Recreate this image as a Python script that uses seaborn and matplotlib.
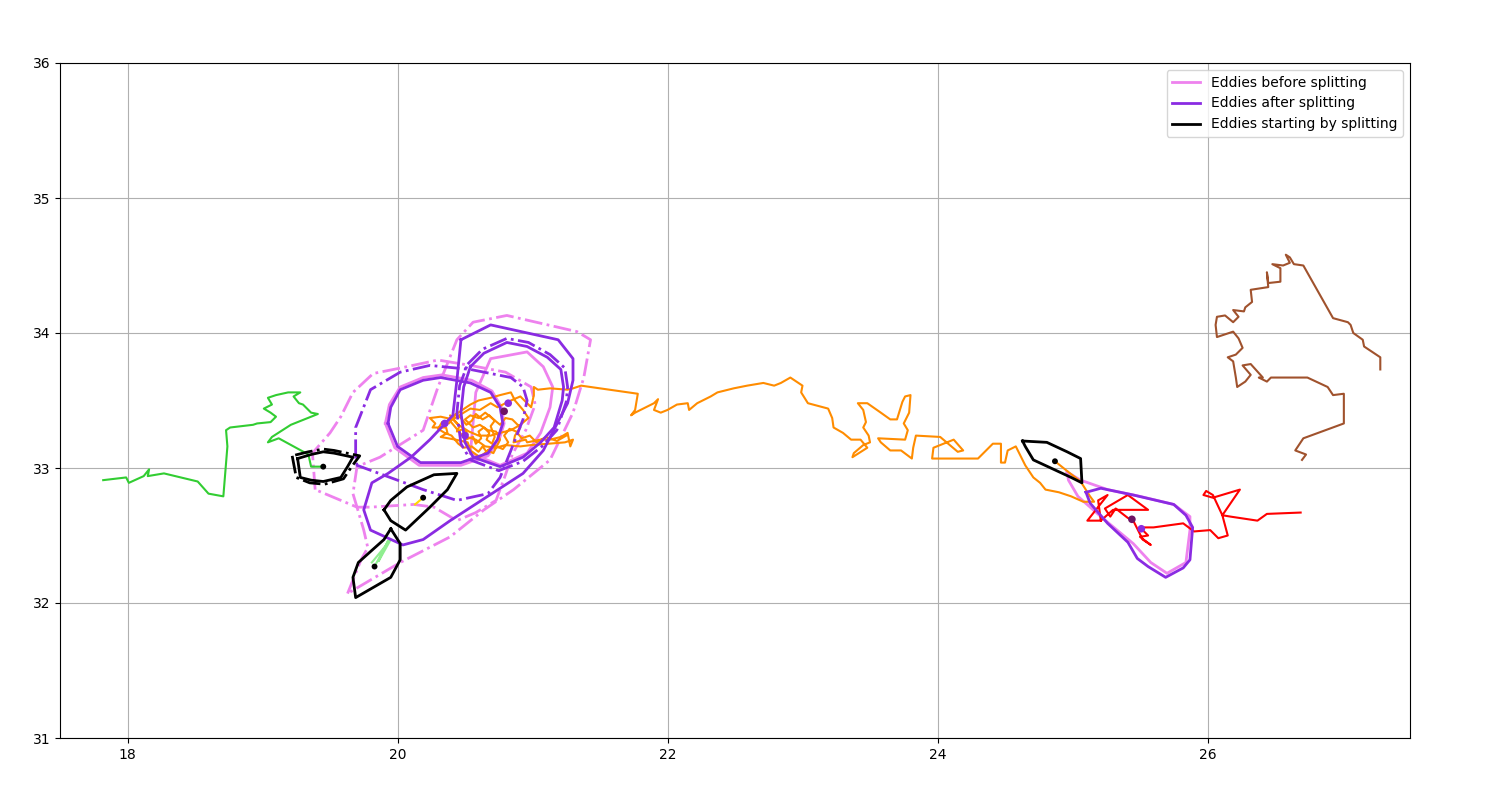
import numpy as np
import pandas as pd
import seaborn as sns
import matplotlib.pyplot as plt
from matplotlib.lines import Line2D

# ---- trajectories (lon, lat) ----
green_track = [
    (17.82, 32.91), (17.99, 32.93), (18.01, 32.89), (18.12, 32.94), (18.16, 32.99),
    (18.15, 32.94), (18.27, 32.96), (18.52, 32.90), (18.60, 32.81), (18.71, 32.79),
    (18.74, 33.16), (18.73, 33.28), (18.76, 33.30), (18.93, 33.32), (18.96, 33.33),
    (19.06, 33.34), (19.10, 33.38), (19.06, 33.41), (19.01, 33.44), (19.07, 33.47),
    (19.04, 33.52), (19.10, 33.54), (19.19, 33.56), (19.28, 33.56), (19.23, 33.53),
    (19.27, 33.48), (19.30, 33.47), (19.36, 33.41), (19.41, 33.40), (19.21, 33.32),
    (19.07, 33.23), (19.04, 33.19), (19.12, 33.22), (19.34, 33.10), (19.36, 33.01),
    (19.45, 33.01),
]

orange_track = [
    (24.87, 33.05), (24.97, 32.97), (25.06, 32.90), (25.13, 32.79), (25.16, 32.75),
    (25.08, 32.75), (24.99, 32.79), (24.90, 32.82), (24.80, 32.84), (24.76, 32.89),
    (24.71, 32.93), (24.65, 33.02), (24.61, 33.10), (24.58, 33.16), (24.52, 33.13),
    (24.50, 33.04), (24.47, 33.04), (24.47, 33.18), (24.41, 33.18), (24.30, 33.07),
    (23.96, 33.07), (23.97, 33.15), (24.12, 33.21), (24.19, 33.13), (24.15, 33.12),
    (24.02, 33.23), (23.84, 33.24), (23.82, 33.15), (23.81, 33.07), (23.73, 33.13),
    (23.65, 33.13), (23.58, 33.19), (23.56, 33.22), (23.76, 33.21), (23.78, 33.28),
    (23.75, 33.33), (23.79, 33.41), (23.80, 33.54), (23.76, 33.53), (23.74, 33.49),
    (23.70, 33.36), (23.65, 33.36), (23.58, 33.41), (23.48, 33.48), (23.41, 33.48),
    (23.45, 33.43), (23.47, 33.34), (23.45, 33.30), (23.49, 33.24), (23.50, 33.19),
    (23.45, 33.17), (23.38, 33.11), (23.37, 33.08), (23.48, 33.15), (23.43, 33.21),
    (23.36, 33.21), (23.30, 33.26), (23.23, 33.30), (23.22, 33.37), (23.19, 33.44),
    (23.04, 33.48), (22.99, 33.56), (23.00, 33.61), (22.91, 33.67), (22.84, 33.63),
    (22.79, 33.61), (22.71, 33.63), (22.59, 33.61), (22.49, 33.59), (22.37, 33.56),
    (22.32, 33.53), (22.22, 33.48), (22.16, 33.43), (22.15, 33.48), (22.07, 33.47),
    (22.00, 33.43), (21.95, 33.41), (21.90, 33.43), (21.93, 33.51), (21.90, 33.48),
    (21.82, 33.44), (21.76, 33.41), (21.73, 33.39), (21.76, 33.43), (21.78, 33.55),
    (21.50, 33.59), (21.36, 33.61),
    (21.30, 33.59), (21.26, 33.58), (21.13, 33.59), (21.04, 33.58), (21.01, 33.60),
    (21.01, 33.54), (20.99, 33.45), (20.91, 33.53), (20.84, 33.50), (20.74, 33.45),
    (20.69, 33.48), (20.61, 33.43), (20.54, 33.44), (20.49, 33.41), (20.41, 33.36),
    (20.32, 33.38), (20.24, 33.37), (20.28, 33.33), (20.26, 33.30), (20.36, 33.30),
    (20.37, 33.26), (20.32, 33.23), (20.43, 33.21), (20.52, 33.19), (20.54, 33.13),
    (20.61, 33.08), (20.67, 33.13), (20.71, 33.11), (20.76, 33.21), (20.73, 33.27),
    (20.67, 33.28), (20.61, 33.32), (20.56, 33.30), (20.50, 33.36), (20.54, 33.39),
    (20.60, 33.37), (20.65, 33.41), (20.70, 33.37), (20.76, 33.32), (20.80, 33.37),
    (20.85, 33.36), (20.91, 33.30), (20.87, 33.24), (20.86, 33.19), (20.95, 33.21),
    (20.96, 33.19), (21.06, 33.21), (21.13, 33.21), (21.21, 33.23), (21.26, 33.26),
    (21.28, 33.16), (21.30, 33.21), (21.24, 33.19), (21.12, 33.18), (20.99, 33.17),
    (20.91, 33.16), (20.80, 33.17), (20.73, 33.15), (20.65, 33.16), (20.58, 33.21),
    (20.48, 33.24), (20.43, 33.30), (20.38, 33.36), (20.45, 33.41), (20.54, 33.47),
    (20.60, 33.50), (20.69, 33.52), (20.76, 33.54), (20.84, 33.56), (20.87, 33.50),
    (20.93, 33.43), (20.97, 33.37), (20.91, 33.32), (20.84, 33.28), (20.76, 33.26),
    (20.69, 33.24), (20.60, 33.24), (20.53, 33.27), (20.45, 33.32), (20.39, 33.39),
    (20.42, 33.35), (20.46, 33.31), (20.44, 33.27), (20.49, 33.29), (20.52, 33.25),
    (20.50, 33.21), (20.56, 33.23), (20.58, 33.18), (20.62, 33.22), (20.60, 33.27),
    (20.64, 33.30), (20.68, 33.26), (20.66, 33.21), (20.70, 33.18), (20.72, 33.23),
    (20.69, 33.31), (20.72, 33.35), (20.68, 33.39), (20.63, 33.36), (20.58, 33.40),
    (20.55, 33.35), (20.51, 33.32), (20.47, 33.37), (20.43, 33.40), (20.38, 33.33),
    (20.33, 33.34), (20.30, 33.29), (20.35, 33.26), (20.40, 33.24), (20.45, 33.18),
    (20.49, 33.15), (20.55, 33.16), (20.60, 33.12), (20.63, 33.16), (20.66, 33.12),
    (20.71, 33.17), (20.78, 33.14), (20.82, 33.19), (20.79, 33.24), (20.83, 33.29),
    (20.88, 33.27), (20.92, 33.22), (20.98, 33.24), (21.03, 33.19), (21.10, 33.23),
    (21.18, 33.20), (21.25, 33.24),
]

red_track = [
    (26.69, 32.67), (26.44, 32.66), (26.37, 32.61), (26.17, 32.64), (26.11, 32.65),
    (26.24, 32.84), (26.04, 32.78), (25.97, 32.80), (25.99, 32.83), (26.04, 32.80),
    (26.11, 32.65), (26.15, 32.50), (26.08, 32.48), (26.02, 32.54), (25.90, 32.53),
    (25.82, 32.59), (25.60, 32.56), (25.50, 32.56), (25.56, 32.50), (25.50, 32.49),
    (25.58, 32.43), (25.52, 32.47), (25.45, 32.61), (25.41, 32.63), (25.32, 32.70),
    (25.28, 32.64), (25.24, 32.70), (25.41, 32.80), (25.56, 32.69), (25.30, 32.69),
    (25.21, 32.61), (25.19, 32.76), (25.26, 32.80), (25.11, 32.61), (25.21, 32.61),
]

brown_track = [
    (27.28, 33.73), (27.28, 33.82), (27.16, 33.90), (27.15, 33.95), (27.08, 34.00),
    (27.06, 34.06), (27.04, 34.08), (26.93, 34.11), (26.71, 34.50), (26.64, 34.51),
    (26.61, 34.56), (26.58, 34.58), (26.61, 34.52), (26.56, 34.50), (26.48, 34.51),
    (26.54, 34.48), (26.54, 34.38), (26.45, 34.37), (26.44, 34.45), (26.45, 34.34),
    (26.32, 34.32), (26.33, 34.23), (26.28, 34.19), (26.27, 34.16), (26.19, 34.17),
    (26.23, 34.12), (26.19, 34.08), (26.13, 34.13), (26.07, 34.12), (26.06, 34.06),
    (26.07, 33.97), (26.19, 34.01), (26.23, 33.96), (26.26, 33.89), (26.21, 33.84),
    (26.15, 33.82), (26.19, 33.79), (26.21, 33.67), (26.22, 33.60), (26.28, 33.64),
    (26.32, 33.69), (26.26, 33.76), (26.32, 33.77), (26.41, 33.67), (26.38, 33.67),
    (26.44, 33.64), (26.47, 33.67), (26.67, 33.67), (26.74, 33.67), (26.89, 33.60),
    (26.93, 33.54), (27.01, 33.55), (27.01, 33.33), (26.71, 33.22), (26.65, 33.13),
    (26.73, 33.10), (26.70, 33.06),
]

gold_track = [(20.13, 32.73), (20.19, 32.78)]
lightgreen_track = [(19.83, 32.27), (19.93, 32.46), (19.86, 32.31), (19.95, 32.47), (19.81, 32.30)]

# ---- eddies before splitting (violet) ----
before_eff_left = [
    (19.39, 32.84), (19.37, 33.11), (19.50, 33.26), (19.58, 33.38), (19.67, 33.56),
    (19.82, 33.70), (20.02, 33.74), (20.30, 33.80), (20.54, 33.76), (20.80, 33.71),
    (20.99, 33.60), (21.02, 33.47), (20.95, 33.28), (20.85, 33.10), (20.80, 32.95),
    (20.73, 32.76), (20.58, 32.67), (20.44, 32.61), (20.27, 32.71), (20.12, 32.73),
    (19.80, 32.71), (19.70, 32.71),
]
before_eff_right = [
    (19.63, 32.07), (19.73, 32.32), (19.78, 32.41), (19.75, 32.54), (19.70, 32.71),
    (19.67, 32.81), (19.70, 33.01), (19.87, 33.08), (20.19, 33.28), (20.30, 33.60),
    (20.44, 33.95), (20.56, 34.08), (20.81, 34.13), (21.33, 34.01), (21.43, 33.95),
    (21.38, 33.67), (21.30, 33.41), (21.13, 33.06), (20.86, 32.84), (20.64, 32.69),
    (20.39, 32.49), (20.02, 32.30),
]
before_speed_left = [
    (19.91, 33.33), (19.94, 33.47), (20.02, 33.60), (20.19, 33.67), (20.33, 33.69),
    (20.55, 33.65), (20.70, 33.57), (20.77, 33.45), (20.79, 33.33), (20.75, 33.20),
    (20.67, 33.09), (20.47, 33.02), (20.16, 33.02), (19.98, 33.15),
]
before_speed_right = [
    (20.54, 33.11), (20.58, 33.56), (20.69, 33.81), (20.96, 33.86), (21.08, 33.75),
    (21.15, 33.60), (21.13, 33.45), (21.06, 33.26), (20.96, 33.11), (20.76, 33.02),
]
before_speed_east = [
    (24.96, 32.97), (25.06, 32.91), (25.26, 32.84), (25.50, 32.79), (25.75, 32.73),
    (25.87, 32.64), (25.87, 32.54), (25.84, 32.30), (25.70, 32.22), (25.58, 32.30),
    (25.45, 32.44), (25.21, 32.64), (25.04, 32.79), (24.97, 32.91),
]

# ---- eddies after splitting (blueviolet) ----
after_eff_left = [
    (19.69, 33.08), (19.69, 33.30), (19.80, 33.58), (20.02, 33.71), (20.24, 33.76),
    (20.54, 33.73), (20.84, 33.67), (20.93, 33.60), (20.96, 33.50), (20.93, 33.36),
    (20.84, 33.13), (20.76, 32.93), (20.67, 32.81), (20.44, 32.76), (20.19, 32.84),
    (19.70, 33.02),
]
after_eff_right = [
    (20.52, 33.77), (20.63, 33.88), (20.81, 33.96), (20.97, 33.93), (21.13, 33.84),
    (21.24, 33.74), (21.26, 33.60), (21.25, 33.49), (21.18, 33.28), (21.07, 33.16),
    (20.93, 33.05), (20.75, 32.98), (20.54, 33.06), (20.47, 33.18), (20.44, 33.41),
    (20.46, 33.61),
]
after_speed_left = [
    (19.93, 33.33), (19.95, 33.45), (20.02, 33.58), (20.19, 33.65), (20.32, 33.67),
    (20.54, 33.63), (20.69, 33.56), (20.76, 33.45), (20.78, 33.33), (20.74, 33.21),
    (20.67, 33.11), (20.47, 33.04), (20.17, 33.04), (20.00, 33.16),
]
after_speed_big = [
    (20.47, 33.95), (20.69, 34.06), (21.19, 33.95), (21.30, 33.81), (21.30, 33.65),
    (21.26, 33.48), (21.08, 33.13), (20.93, 32.96), (20.39, 32.61), (20.19, 32.47),
    (20.04, 32.43), (19.80, 32.54), (19.75, 32.69), (19.81, 32.89), (19.93, 32.96),
    (20.10, 33.08), (20.24, 33.21), (20.41, 33.39), (20.44, 33.65),
]
after_speed_inner = [
    (20.54, 33.75), (20.64, 33.85), (20.81, 33.93), (20.96, 33.90), (21.11, 33.82),
    (21.21, 33.73), (21.23, 33.60), (21.22, 33.50), (21.16, 33.30), (21.06, 33.19),
    (20.93, 33.08), (20.76, 33.01), (20.56, 33.08), (20.50, 33.19), (20.47, 33.41),
    (20.49, 33.60),
]
after_speed_east = [
    (25.10, 32.82), (25.21, 32.85), (25.45, 32.80), (25.75, 32.73), (25.84, 32.65),
    (25.89, 32.56), (25.87, 32.32), (25.82, 32.26), (25.69, 32.19), (25.56, 32.27),
    (25.48, 32.33), (25.41, 32.45), (25.26, 32.59), (25.13, 32.74),
]
after_centers = [(20.35, 33.33), (20.50, 33.24), (20.82, 33.48), (25.51, 32.55)]
merged_centers = [(20.79, 33.42), (25.44, 32.62)]

# ---- eddies starting by splitting (black) ----
start_eff_west = [
    (19.22, 33.09), (19.25, 32.93), (19.35, 32.89), (19.46, 32.88), (19.60, 32.92),
    (19.66, 33.01), (19.72, 33.09), (19.53, 33.13), (19.45, 33.14), (19.34, 33.12),
]
start_speed_west = [
    (19.26, 33.07), (19.28, 32.93), (19.36, 32.91), (19.45, 32.90), (19.58, 32.93),
    (19.63, 33.01), (19.67, 33.08), (19.53, 33.11), (19.45, 33.12), (19.36, 33.10),
]
start_speed_mid = [
    (19.90, 32.69), (19.95, 32.76), (20.07, 32.86), (20.27, 32.95), (20.44, 32.96),
    (20.37, 32.84), (20.24, 32.71), (20.06, 32.54), (19.95, 32.61),
]
start_speed_south = [
    (19.95, 32.55), (20.02, 32.44), (20.02, 32.32), (19.95, 32.19), (19.69, 32.04),
    (19.67, 32.19), (19.71, 32.30), (19.81, 32.39), (19.90, 32.47),
]
start_speed_east = [
    (24.63, 33.20), (24.81, 33.19), (24.96, 33.12), (25.06, 33.07), (25.07, 32.89),
    (24.99, 32.93), (24.71, 33.06), (24.65, 33.16),
]
start_centers = [(19.45, 33.01), (20.19, 32.78), (19.83, 32.27), (24.87, 33.05)]

x_ticks = [18, 20, 22, 24, 26]
y_ticks = [31, 32, 33, 34, 35, 36]
legend_labels = ["Eddies before splitting", "Eddies after splitting", "Eddies starting by splitting"]

VIOLET = "violet"
BLUEVIOLET = "blueviolet"


def draw(ax, pts, color, lw=2, ls="-", closed=True, z=2):
    arr = np.array(pts)
    if closed:
        arr = np.vstack([arr, arr[:1]])
    df = pd.DataFrame(arr, columns=["lon", "lat"])
    sns.lineplot(data=df, x="lon", y="lat", sort=False, estimator=None,
                 color=color, lw=lw, linestyle=ls, ax=ax, zorder=z)


fig = plt.figure(figsize=(15, 8), dpi=100)
ax = fig.add_axes([0.04, 0.0775, 0.9, 0.84375])

# before splitting
for c in [before_eff_left, before_eff_right]:
    draw(ax, c, VIOLET, ls="-.", z=2)
for c in [before_speed_left, before_speed_right, before_speed_east]:
    draw(ax, c, VIOLET, z=2)

# trajectories
draw(ax, green_track, "limegreen", lw=1.5, closed=False, z=3)
draw(ax, orange_track, "darkorange", lw=1.5, closed=False, z=3)
draw(ax, red_track, "red", lw=1.5, closed=False, z=3)
draw(ax, brown_track, "sienna", lw=1.5, closed=False, z=3)
draw(ax, gold_track, "gold", lw=1.5, closed=False, z=3)
draw(ax, lightgreen_track, "lightgreen", lw=1.5, closed=False, z=3)

# after splitting
for c in [after_eff_left, after_eff_right]:
    draw(ax, c, BLUEVIOLET, ls="-.", z=4)
for c in [after_speed_left, after_speed_big, after_speed_inner, after_speed_east]:
    draw(ax, c, BLUEVIOLET, z=4)

# starting by splitting
draw(ax, start_eff_west, "black", ls="-.", z=5)
for c in [start_speed_west, start_speed_mid, start_speed_south, start_speed_east]:
    draw(ax, c, "black", z=5)

ac = np.array(after_centers)
sns.scatterplot(x=ac[:, 0], y=ac[:, 1], color=BLUEVIOLET, s=30, edgecolor="none", ax=ax, zorder=6)
mc = np.array(merged_centers)
sns.scatterplot(x=mc[:, 0], y=mc[:, 1], color="#6e1464", s=30, edgecolor="none", ax=ax, zorder=6)
sc = np.array(start_centers)
sns.scatterplot(x=sc[:, 0], y=sc[:, 1], color="black", s=18, edgecolor="none", ax=ax, zorder=6)

ax.set_xlim(17.5, 27.5)
ax.set_ylim(31, 36)
ax.set_xticks(x_ticks)
ax.set_yticks(y_ticks)
ax.set_xlabel("")
ax.set_ylabel("")
ax.grid(True)
ax.set_axisbelow(True)

handles = [Line2D([0], [0], color=c, lw=2) for c in [VIOLET, BLUEVIOLET, "black"]]
ax.legend(handles, legend_labels, loc="upper right")

fig.savefig("out.png", dpi=100)
